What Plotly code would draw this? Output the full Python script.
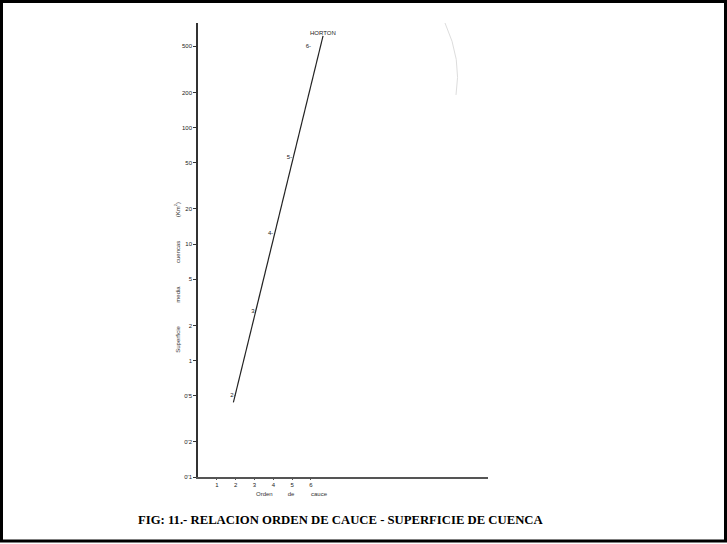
import plotly.graph_objects as go

# Data
orders = [2, 3, 4, 5, 6]
areas = [0.5, 2.65, 12.2, 55, 500]
point_labels = ["2-", "3", "4-", "5-", "6-"]

horton_x = [1.88, 6.64]
horton_y = [0.437, 612]

y_tickvals = [0.1, 0.2, 0.5, 1, 2, 5, 10, 20, 50, 100, 200, 500]
y_ticktext = ["0'1", "0'2", "0'5", "1", "2", "5", "10", "20", "50", "100", "200", "500"]
x_tickvals = [1, 2, 3, 4, 5, 6]

W, H = 727, 544
L, R, T, B = 198, 488, 23, 477.5

def px(x):
    return (x - L) / (R - L)

def py(y):
    return (B - y) / (B - T)

SPY = "&nbsp;" * 14
SPX = "&nbsp;" * 9

fig = go.Figure()

fig.add_trace(go.Scatter(
    x=horton_x, y=horton_y, mode="lines",
    line=dict(color="#222222", width=1.2),
    hoverinfo="skip", showlegend=False,
))

fig.add_trace(go.Scatter(
    x=orders, y=areas, mode="text",
    text=point_labels, textposition="middle left",
    textfont=dict(family="Liberation Sans", size=6, color="#222222"),
    showlegend=False,
))

fig.add_annotation(
    x=6.62, y=2.807, xref="x", yref="y", text="HORTON", showarrow=False,
    xanchor="center", yanchor="middle",
    font=dict(family="Liberation Sans", size=6, color="#222222"),
)

# axis titles (spread words like the scan)
fig.add_annotation(
    x=px(177), y=py(278), xref="paper", yref="paper",
    text=f"Superficie{SPY}media{SPY}cuencas{SPY}(Km<sup>2</sup>)",
    textangle=-90, showarrow=False, xanchor="center", yanchor="middle",
    font=dict(family="Liberation Sans", size=6, color="#333333"),
)
fig.add_annotation(
    x=px(292), y=py(495), xref="paper", yref="paper",
    text=f"Orden{SPX}de{SPX}&nbsp;cauce", showarrow=False,
    xanchor="center", yanchor="middle",
    font=dict(family="Liberation Sans", size=6, color="#333333"),
)

# caption
fig.add_annotation(
    x=px(340), y=py(521), xref="paper", yref="paper",
    text="<b>FIG: 11.- RELACION ORDEN DE CAUCE - SUPERFICIE DE CUENCA</b>",
    showarrow=False, xanchor="center", yanchor="middle",
    font=dict(family="Liberation Serif", size=12.7, color="#000000"),
)

# page border
fig.add_shape(type="rect", xref="paper", yref="paper",
              x0=px(1.5), x1=px(725.5), y0=py(541.5), y1=py(1.5),
              line=dict(color="#000000", width=3))

# faint scan artifact arc
fig.add_shape(type="path", xref="paper", yref="paper",
              path=f"M {px(445)} {py(23)} Q {px(462)} {py(60)} {px(456)} {py(95)}",
              line=dict(color="#dddddd", width=1))

fig.update_xaxes(
    range=[0, 15.4], tickvals=x_tickvals, ticktext=[str(v) for v in x_tickvals],
    showgrid=False, zeroline=False, showline=True, linecolor="#555555", linewidth=2,
    ticks="outside", ticklen=1, tickcolor="#555555",
    tickfont=dict(family="Liberation Sans", size=6, color="#222222"),
)
fig.update_yaxes(
    type="log", range=[-1, 2.897], tickvals=y_tickvals, ticktext=y_ticktext,
    showgrid=False, zeroline=False, showline=True, linecolor="#333333", linewidth=1.5,
    ticks="outside", ticklen=3, tickcolor="#333333",
    tickfont=dict(family="Liberation Sans", size=6, color="#222222"),
)

fig.update_layout(
    width=W, height=H,
    margin=dict(l=L, r=W - R, t=T, b=H - B),
    paper_bgcolor="white", plot_bgcolor="white",
    showlegend=False,
)

fig.write_html(
    "out.html",
    config={"displayModeBar": False},
    post_script="document.body.style.margin='0';document.body.style.overflow='hidden';",
)
